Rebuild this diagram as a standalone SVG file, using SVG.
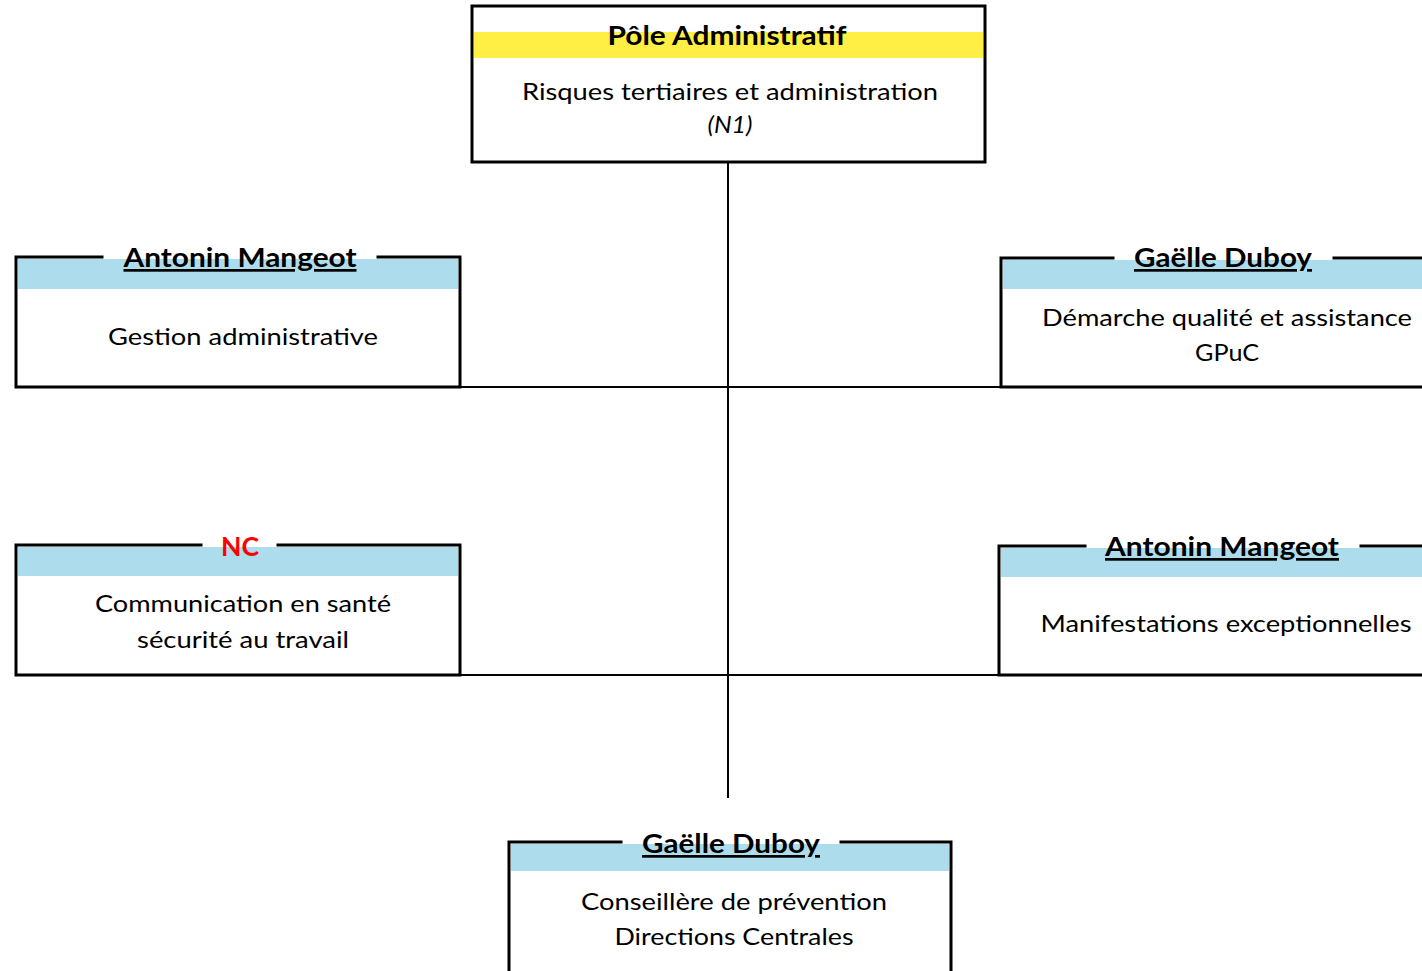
<svg xmlns="http://www.w3.org/2000/svg" width="1422" height="971" viewBox="0 0 1422 971">
<style>
.box{fill:#fff;stroke:none}
.edge{stroke:#000;stroke-width:3;fill:none;stroke-linecap:square}
.band{fill:#ADDDEC}
.yband{fill:#FFEF45}
.conn{stroke:#000;stroke-width:2;fill:none}
.t{font-family:Lato,"Open Sans",sans-serif;font-size:24px;fill:#000;text-anchor:middle}
.h{font-family:Lato,"Open Sans",sans-serif;font-size:27px;font-weight:bold;fill:#000;text-anchor:middle}
.u{text-decoration:underline}
</style>
<rect width="1422" height="971" fill="#fff"/>
<g id="connectors">
<line class="conn" x1="728" y1="162" x2="728" y2="798"/>
<line class="conn" x1="460" y1="387" x2="1001" y2="387"/>
<line class="conn" x1="460" y1="675" x2="999" y2="675"/>
</g>
<g id="pole">
<rect class="box" x="472" y="6" width="513" height="156"/>
<rect class="yband" x="474" y="32" width="509" height="26"/>
<rect class="edge" x="472" y="6" width="513" height="156"/>
<text class="h" x="727" y="45" textLength="239" lengthAdjust="spacingAndGlyphs">Pôle Administratif</text>
<text class="t" x="730" y="100" textLength="416" lengthAdjust="spacingAndGlyphs">Risques tertiaires et administration</text>
<text class="t" x="730" y="133" font-style="italic" textLength="45" lengthAdjust="spacingAndGlyphs">(N1)</text>
</g>
<g id="gestion">
<rect class="box" x="16" y="257" width="444" height="130"/>
<rect class="band" x="18" y="259" width="440" height="30"/>
<path class="edge" d="M102 257 H16 V387 H460 V257 H378"/>
<text class="h u" x="240" y="267" textLength="233" lengthAdjust="spacingAndGlyphs">Antonin Mangeot</text>
<text class="t" x="243" y="345" textLength="270" lengthAdjust="spacingAndGlyphs">Gestion administrative</text>
</g>
<g id="demarche">
<rect class="box" x="1001" y="258" width="430" height="129"/>
<rect class="band" x="1003" y="260" width="430" height="29"/>
<path class="edge" d="M1113 258 H1001 V387 H1430 M1334 258 H1430"/>
<text class="h u" x="1223" y="267" textLength="178" lengthAdjust="spacingAndGlyphs">Gaëlle Duboy</text>
<text class="t" x="1227" y="326" textLength="370" lengthAdjust="spacingAndGlyphs">Démarche qualité et assistance</text>
<text class="t" x="1227" y="361" textLength="64" lengthAdjust="spacingAndGlyphs">GPuC</text>
</g>
<g id="communication">
<rect class="box" x="16" y="545" width="444" height="130"/>
<rect class="band" x="18" y="547" width="440" height="29"/>
<path class="edge" d="M201 545 H16 V675 H460 V545 H278"/>
<text class="h" x="240" y="556" style="fill:#FF0000" textLength="38" lengthAdjust="spacingAndGlyphs">NC</text>
<text class="t" x="243" y="612" textLength="296" lengthAdjust="spacingAndGlyphs">Communication en santé</text>
<text class="t" x="243" y="648" textLength="212" lengthAdjust="spacingAndGlyphs">sécurité au travail</text>
</g>
<g id="manifestations">
<rect class="box" x="999" y="546" width="430" height="129"/>
<rect class="band" x="1001" y="548" width="430" height="29"/>
<path class="edge" d="M1085 546 H999 V675 H1430 M1361 546 H1430"/>
<text class="h u" x="1222" y="556" textLength="234" lengthAdjust="spacingAndGlyphs">Antonin Mangeot</text>
<text class="t" x="1226" y="632" textLength="371" lengthAdjust="spacingAndGlyphs">Manifestations exceptionnelles</text>
</g>
<g id="conseillere">
<rect class="box" x="509" y="842" width="442" height="140"/>
<rect class="band" x="511" y="844" width="438" height="27"/>
<path class="edge" d="M621 842 H509 V980 M951 980 V842 H841"/>
<text class="h u" x="731" y="853" textLength="178" lengthAdjust="spacingAndGlyphs">Gaëlle Duboy</text>
<text class="t" x="734" y="910" textLength="306" lengthAdjust="spacingAndGlyphs">Conseillère de prévention</text>
<text class="t" x="734" y="945" textLength="239" lengthAdjust="spacingAndGlyphs">Directions Centrales</text>
</g>
</svg>
